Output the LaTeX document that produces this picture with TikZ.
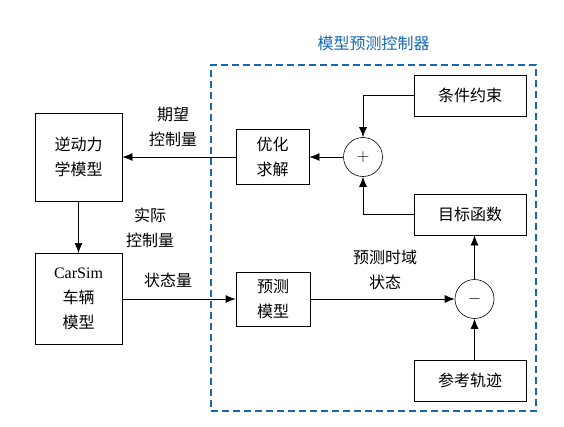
\documentclass[tikz,border=0pt]{standalone}
\usepackage{fontspec}
\setmainfont{Liberation Serif}
\newfontfamily\cjk{Noto Sans CJK SC}
\usetikzlibrary{arrows.meta}
\definecolor{ctrlblue}{RGB}{22,104,178}

\begin{document}
\begin{tikzpicture}[x=1pt, y=-1pt,
    every node/.style={font=\cjk\fontsize{16}{25}\selectfont},
    block/.style={draw, line width=0.8pt, align=center, inner sep=0pt},
    sumnode/.style={draw, circle, minimum size=39pt, inner sep=0pt, line width=0.6pt},
    flow/.style={-{Latex[length=10pt, width=8pt]}, line width=0.8pt},
    lbl/.style={align=center},
    mpcframe/.style={draw=ctrlblue, dash pattern=on 7pt off 4pt, line width=1.6pt, inner sep=0pt}
]
    \useasboundingbox (0,0) rectangle (564,426);
    % controller frame
    \node[mpcframe, minimum width=325pt, minimum height=346pt] (mpc) at (373.5,238) {};
    \node[text=ctrlblue] (mpcTitle) at (373.5,43) {模型预测控制器};
    % blocks
    \node[block, minimum width=87pt, minimum height=88pt] (inv) at (78.5,157) {逆动力\\学模型};
    \node[block, minimum width=87pt, minimum height=91pt] (carsim) at (78.5,299) {{\rmfamily CarSim}\\车辆\\模型};
    \node[block, minimum width=73pt, minimum height=55pt] (opt) at (272.5,157) {优化\\求解};
    \node[block, minimum width=74pt, minimum height=54pt] (pred) at (273,299) {预测\\模型};
    \node[block, minimum width=112pt, minimum height=41pt] (cons) at (470,95.5) {条件约束};
    \node[block, minimum width=112pt, minimum height=41pt] (obj) at (470,214.5) {目标函数};
    \node[block, minimum width=112pt, minimum height=41pt] (ref) at (470,380.5) {参考轨迹};
    \node[sumnode] (plus) at (363,157) {$+$};
    \node[sumnode] (minus) at (474.5,299) {$-$};
    % labels
    \node[lbl] (desired) at (173,127) {期望\\控制量};
    \node[lbl] (actual) at (150,228) {实际\\控制量};
    \node[lbl] (state) at (168,280) {状态量};
    \node[lbl] (horizon) at (385,270) {预测时域\\状态};
    % connections
    \draw[flow] (cons.west) -| (plus.north);
    \draw[flow] (obj.west) -| (plus.south);
    \draw[flow] (plus.west) -- (opt.east);
    \draw[flow] (opt.west) -- (inv.east);
    \draw[flow] (inv.south) -- (carsim.north);
    \draw[flow] (carsim.east) -- (pred.west);
    \draw[flow] (pred.east) -- (minus.west);
    \draw[flow] (minus |- ref.north) -- (minus.south);
    \draw[flow] (minus.north) -- (minus |- obj.south);
\end{tikzpicture}
\end{document}
